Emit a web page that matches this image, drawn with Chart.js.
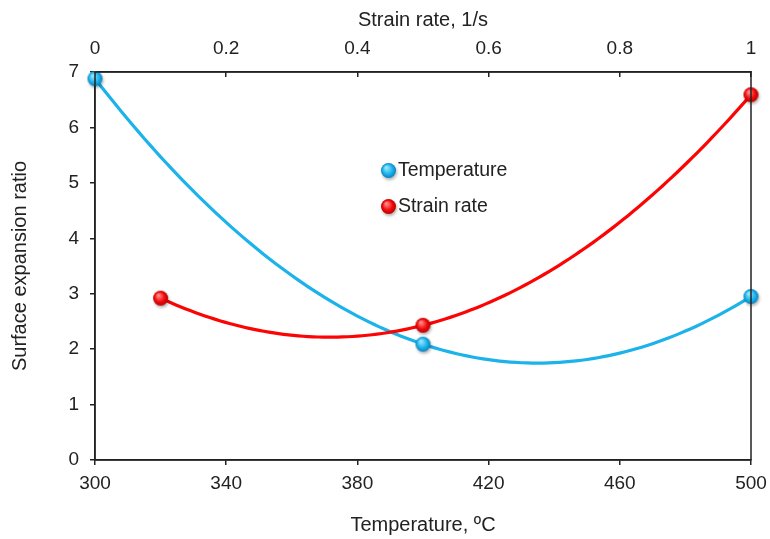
<!DOCTYPE html>
<html>
<head>
<meta charset="utf-8">
<title>Surface expansion ratio vs temperature and strain rate</title>
<script src="https://cdn.jsdelivr.net/npm/chart.js@4/dist/chart.umd.min.js"></script>
<style>
  html, body { margin: 0; padding: 0; background: #ffffff; }
  #wrap { width: 770px; height: 539px; }
</style>
</head>
<body>
<div id="wrap"><canvas id="chart" width="770" height="539"></canvas></div>
<script>
// Measured values
const temperatureC = [300, 400, 500];
const ratioByTemperature = [6.88, 2.09, 2.95];
const strainRate = [0.1, 0.5, 1.0];
const ratioByStrainRate = [2.92, 2.43, 6.59];

// Axis ticks
const temperatureTicks = [300, 340, 380, 420, 460, 500];
const strainRateTicks = [0, 0.2, 0.4, 0.6, 0.8, 1];
const ratioTicks = [0, 1, 2, 3, 4, 5, 6, 7];

const FONT = "'Liberation Sans', Arial, sans-serif";
const TEXT = '#222222';
const AXIS = '#222222';
const BLUE = 'rgb(28,178,234)';
const RED = 'rgb(252,4,4)';

// Shaded sphere marker with a soft drop shadow
function sphere(base, light, dark, r) {
  const size = Math.ceil(r * 2 + 10);
  const c = document.createElement('canvas');
  c.width = size; c.height = size;
  const g = c.getContext('2d');
  const cx = size / 2, cy = size / 2;
  g.save();
  g.shadowColor = 'rgba(0,0,0,0.3)';
  g.shadowBlur = 3;
  g.shadowOffsetX = 1;
  g.shadowOffsetY = 2;
  const grad = g.createRadialGradient(cx - r * 0.3, cy - r * 0.4, r * 0.1, cx, cy, r);
  grad.addColorStop(0, light);
  grad.addColorStop(0.6, base);
  grad.addColorStop(1, dark);
  g.fillStyle = grad;
  g.beginPath();
  g.arc(cx, cy, r, 0, Math.PI * 2);
  g.fill();
  g.restore();
  return c;
}
const blueBall = sphere('rgb(30,180,236)', 'rgb(150,230,252)', 'rgb(10,130,190)', 7.5);
const redBall = sphere('rgb(245,12,12)', 'rgb(255,140,140)', 'rgb(185,0,0)', 7.5);

// Second-order trendline through each series, drawn on the chart's scales
function quadThrough(xs, ys) {
  return function (x) {
    let s = 0;
    for (let i = 0; i < xs.length; i++) {
      let l = 1;
      for (let j = 0; j < xs.length; j++) if (j !== i) l *= (x - xs[j]) / (xs[i] - xs[j]);
      s += ys[i] * l;
    }
    return s;
  };
}
const trendlines = {
  id: 'trendlines',
  beforeDatasetsDraw(chart) {
    const ctx = chart.ctx;
    const yScale = chart.scales.y;
    chart.data.datasets.forEach(ds => {
      const xScale = chart.scales[ds.xAxisID];
      const xs = ds.data.map(p => p.x), ys = ds.data.map(p => p.y);
      const f = quadThrough(xs, ys);
      const x0 = xs[0], x1 = xs[xs.length - 1];
      const steps = 120;
      ctx.save();
      ctx.strokeStyle = ds.trendColor;
      ctx.lineWidth = 3.2;
      ctx.lineJoin = 'round';
      ctx.lineCap = 'round';
      ctx.beginPath();
      for (let k = 0; k <= steps; k++) {
        const xv = x0 + (x1 - x0) * k / steps;
        const px = xScale.getPixelForValue(xv), py = yScale.getPixelForValue(f(xv));
        if (k === 0) ctx.moveTo(px, py); else ctx.lineTo(px, py);
      }
      ctx.stroke();
      ctx.restore();
    });
  },
  afterDraw(chart) {
    const { ctx, chartArea: a } = chart;
    ctx.save();
    // frame around the plot
    ctx.strokeStyle = AXIS;
    ctx.lineWidth = 1.5;
    ctx.strokeRect(a.left, a.top, a.right - a.left, a.bottom - a.top);
    // legend inside the plot
    const items = [
      { img: blueBall, text: chart.data.datasets[0].label, fy: 0.2526 },
      { img: redBall, text: chart.data.datasets[1].label, fy: 0.3454 }
    ];
    ctx.font = '19.5px ' + FONT;
    ctx.fillStyle = TEXT;
    ctx.textBaseline = 'middle';
    ctx.textAlign = 'left';
    items.forEach(it => {
      const mx = a.left + (a.right - a.left) * 0.448;
      const my = a.top + (a.bottom - a.top) * it.fy;
      ctx.drawImage(it.img, Math.round(mx - it.img.width / 2), Math.round(my - it.img.height / 2));
      ctx.fillText(it.text, mx + 9, my + 1);
    });
    ctx.restore();
  }
};

function fixedTicks(values) {
  return scale => { scale.ticks = values.map(v => ({ value: v })); };
}
function noOverhang(scale) {
  scale.paddingLeft = 0; scale.paddingRight = 0;
  scale.paddingTop = 0; scale.paddingBottom = 0;
}

new Chart(document.getElementById('chart'), {
  type: 'scatter',
  data: {
    datasets: [
      {
        label: 'Temperature',
        data: temperatureC.map((t, i) => ({ x: t, y: ratioByTemperature[i] })),
        xAxisID: 'x', yAxisID: 'y',
        pointStyle: blueBall, pointRadius: 8, pointHoverRadius: 8,
        showLine: false, clip: false, trendColor: BLUE
      },
      {
        label: 'Strain rate',
        data: strainRate.map((s, i) => ({ x: s, y: ratioByStrainRate[i] })),
        xAxisID: 'x2', yAxisID: 'y',
        pointStyle: redBall, pointRadius: 8, pointHoverRadius: 8,
        showLine: false, clip: false, trendColor: RED
      }
    ]
  },
  options: {
    responsive: false,
    animation: false,
    devicePixelRatio: 1,
    layout: { padding: { left: 0, right: 19, top: 0, bottom: 0 } },
    plugins: { legend: { display: false }, tooltip: { enabled: false } },
    scales: {
      x: {
        type: 'linear', position: 'bottom', min: 300, max: 500,
        afterBuildTicks: fixedTicks(temperatureTicks),
        afterFit: s => { s.height = 79; noOverhang(s); },
        ticks: { font: { family: FONT, size: 19 }, color: TEXT, padding: 7, maxRotation: 0, callback: v => String(v) },
        grid: { drawOnChartArea: false, drawTicks: true, tickLength: 5, color: AXIS, lineWidth: 1.5 },
        border: { display: true, color: AXIS, width: 1.5 },
        title: { display: true, text: 'Temperature, ºC', color: TEXT, font: { family: FONT, size: 20 }, padding: { top: 0, bottom: 2 } }
      },
      x2: {
        type: 'linear', position: 'top', min: 0, max: 1,
        afterBuildTicks: fixedTicks(strainRateTicks),
        afterFit: s => { s.height = 72; noOverhang(s); },
        ticks: { font: { family: FONT, size: 19 }, color: TEXT, padding: 16.6, maxRotation: 0, callback: v => String(v) },
        grid: { drawOnChartArea: false, drawTicks: true, tickLength: -5, color: AXIS, lineWidth: 1.5 },
        border: { display: true, color: AXIS, width: 1.5 },
        title: { display: true, text: 'Strain rate, 1/s', color: TEXT, font: { family: FONT, size: 20 }, padding: { top: 8, bottom: 0 } }
      },
      y: {
        type: 'linear', position: 'left', min: 0, max: 7,
        afterBuildTicks: fixedTicks(ratioTicks),
        afterFit: s => { s.width = 95; noOverhang(s); },
        ticks: { font: { family: FONT, size: 19 }, color: TEXT, padding: 11, callback: v => String(v) },
        grid: { drawOnChartArea: false, drawTicks: true, tickLength: 5, color: AXIS, lineWidth: 1.5 },
        border: { display: true, color: AXIS, width: 1.5 },
        title: { display: true, text: 'Surface expansion ratio', color: TEXT, font: { family: FONT, size: 20 }, padding: { top: 8, bottom: 0 } }
      }
    }
  },
  plugins: [trendlines]
});
</script>
</body>
</html>
